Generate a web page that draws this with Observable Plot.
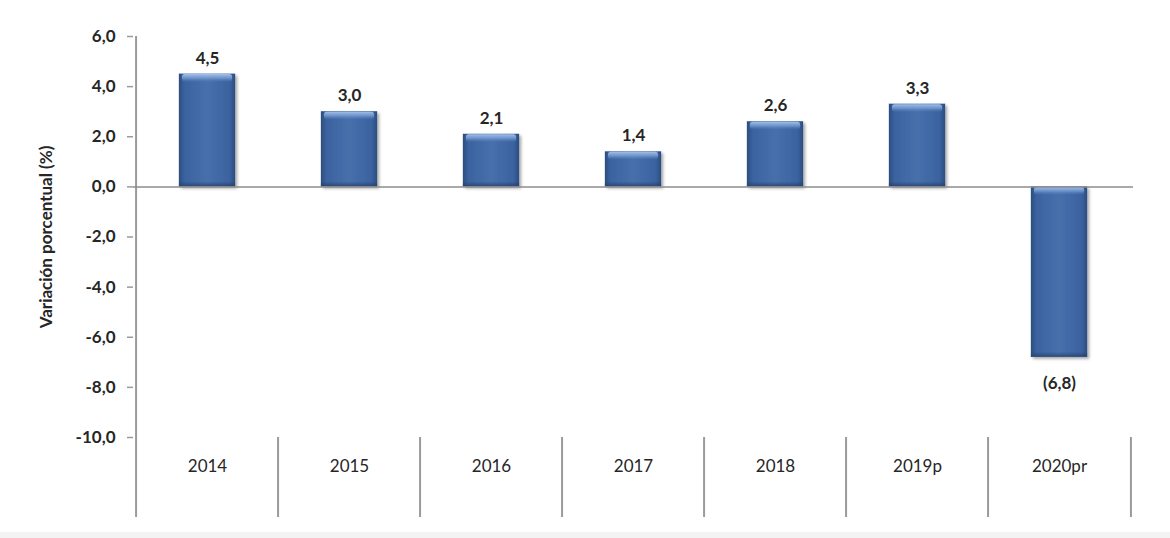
<!DOCTYPE html>
<html><head><meta charset="utf-8">
<script src="https://cdn.jsdelivr.net/npm/d3@7"></script>
<script src="https://cdn.jsdelivr.net/npm/@observablehq/plot@0.6"></script>
<style>
html,body{margin:0;padding:0;background:#f3f3f3;}
#chart svg{display:block;background:#fff}
</style></head><body><div id="chart"></div>
<script>
const years = ["2014","2015","2016","2017","2018","2019p","2020pr"];
const values = [4.5, 3.0, 2.1, 1.4, 2.6, 3.3, -6.8];
const yTicks = [6, 4, 2, 0, -2, -4, -6, -8, -10];
const yTitle = "Variación porcentual (%)";

const data = years.map((y, i) => ({year: y, value: values[i]}));
const W = 1170, H = 532, mL = 133, mR = 37, mT = 36, mB = 95;
const bw = (W - mL - mR) / years.length;
const yMax = d3.max(yTicks), yMin = d3.min(yTicks);
const k = (H - mT - mB) / (yMax - yMin);
const yBottom = yMin - 80 / k; // bottom of category band
const comma = v => v.toFixed(1).replace(".", ",");
const fmtLabel = v => v < 0 ? "(" + comma(Math.abs(v)) + ")" : comma(v);
const font = "Lato, 'Open Sans', sans-serif";
const gray = "#9a9a9a";
const ink = "#262626";

const chart = Plot.plot({
  width: W, height: H,
  marginLeft: mL, marginRight: mR, marginTop: mT, marginBottom: mB,
  style: {fontFamily: font, color: ink, background: "#fff"},
  x: {type: "band", domain: years, padding: 0},
  y: {domain: [yMin, yMax]},
  marks: [
    Plot.axisY({ticks: yTicks, tickFormat: comma, tickSize: 6, tickPadding: 12,
      fontSize: 17, fontWeight: "bold", stroke: gray, strokeWidth: 1.5,
      label: yTitle, labelAnchor: "center", labelOffset: 94, labelArrow: "none"}),
    Plot.axisX({tickSize: 0, tickPadding: 22, fontSize: 17, fontWeight: "normal", label: null}),
    Plot.ruleX([years[0]], {dx: -bw / 2, y1: yMax, y2: yBottom, stroke: gray, strokeWidth: 2}),
    Plot.ruleX(years.slice(1), {x: d => d, dx: -bw / 2, y1: yMin, y2: yBottom, stroke: gray, strokeWidth: 2}),
    Plot.ruleX([years[years.length - 1]], {dx: bw / 2, y1: yMin, y2: yBottom, stroke: gray, strokeWidth: 2}),
    Plot.barY(data, {x: "year", y: "value", fill: "url(#barGrad)", insetLeft: bw * 0.3, insetRight: bw * 0.3}),
    Plot.ruleY([0], {stroke: "#8c8c8c", strokeWidth: 1.5}),
    Plot.text(data.filter(d => d.value >= 0), {x: "year", y: "value", text: d => fmtLabel(d.value), dy: -16,
      fontSize: 17, fontWeight: "bold", fill: ink}),
    Plot.text(data.filter(d => d.value < 0), {x: "year", y: "value", text: d => fmtLabel(d.value), dy: 26,
      fontSize: 17, fontWeight: "bold", fill: ink})
  ]
});

const defs = `<defs>
<linearGradient id="barGrad" x1="0" x2="1" y1="0" y2="0">
<stop offset="0" stop-color="#2c4d7e"/>
<stop offset="0.1" stop-color="#3b62a0"/>
<stop offset="0.5" stop-color="#4770ab"/>
<stop offset="0.9" stop-color="#3b62a0"/>
<stop offset="1" stop-color="#2c4d7e"/>
</linearGradient>
<linearGradient id="bevelTop" x1="0" x2="0" y1="0" y2="1">
<stop offset="0" stop-color="#a4c0e8" stop-opacity="1"/>
<stop offset="0.5" stop-color="#7a9fd4" stop-opacity="0.8"/>
<stop offset="1" stop-color="#5b84bf" stop-opacity="0"/>
</linearGradient>
<linearGradient id="bevelBot" x1="0" x2="0" y1="0" y2="1">
<stop offset="0" stop-color="#24406a" stop-opacity="0"/>
<stop offset="1" stop-color="#24406a" stop-opacity="0.8"/>
</linearGradient>
<filter id="shadow" x="-20%" y="-20%" width="140%" height="140%">
<feDropShadow dx="2" dy="2" stdDeviation="1.5" flood-color="#000" flood-opacity="0.35"/>
</filter></defs>`;
chart.insertAdjacentHTML("afterbegin", defs);
const ns = "http://www.w3.org/2000/svg";
chart.querySelectorAll("g[aria-label='bar'] rect").forEach(r => {
  r.setAttribute("filter", "url(#shadow)");
  const x = +r.getAttribute("x"), y = +r.getAttribute("y"), w = +r.getAttribute("width"), h = +r.getAttribute("height");
  const g = r.parentNode;
  const top = document.createElementNS(ns, "rect");
  top.setAttribute("x", x + 3); top.setAttribute("width", w - 6);
  top.setAttribute("y", y + 0.5); top.setAttribute("height", 8);
  top.setAttribute("rx", 3);
  top.setAttribute("fill", "url(#bevelTop)");
  g.appendChild(top);
  const bot = document.createElementNS(ns, "rect");
  bot.setAttribute("x", x); bot.setAttribute("width", w);
  bot.setAttribute("y", y + h - 5); bot.setAttribute("height", 5);
  bot.setAttribute("fill", "url(#bevelBot)");
  g.appendChild(bot);
});
document.getElementById("chart").appendChild(chart);
</script></body></html>
